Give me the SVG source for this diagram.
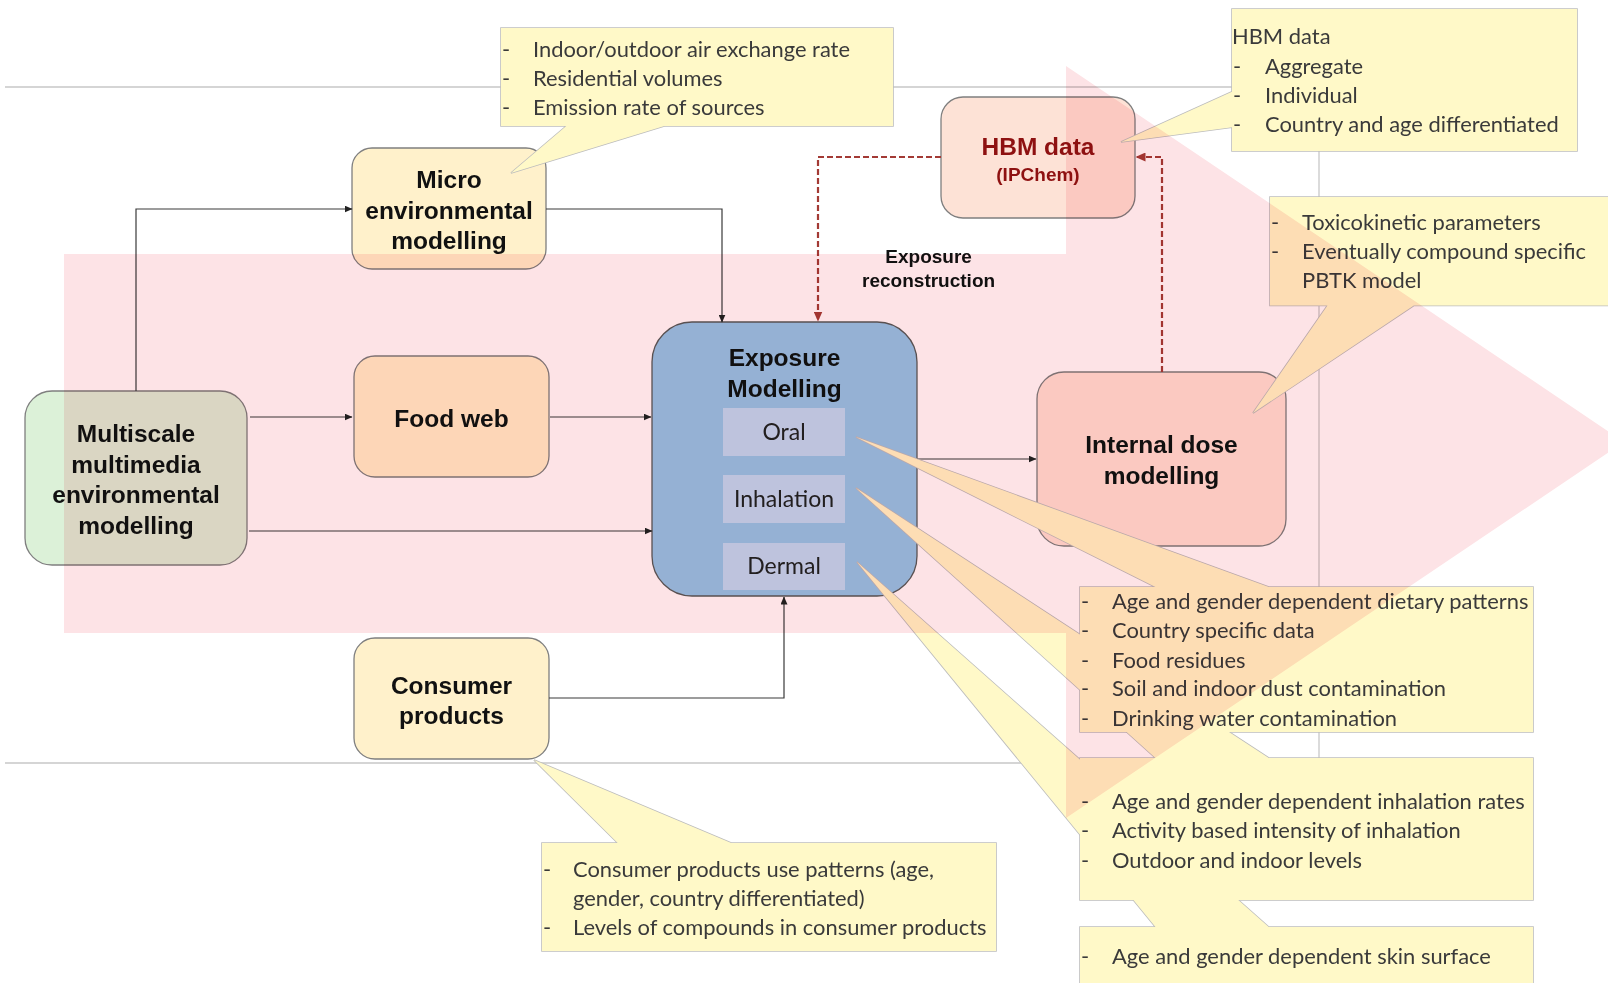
<svg xmlns="http://www.w3.org/2000/svg" width="1608" height="983" viewBox="0 0 1608 983">
<defs>
<style>
.node{stroke:#7f7f7f;stroke-width:1.3}
.cream{fill:#FFF1CB}
.nt{font-family:"Liberation Sans",Arial,sans-serif;font-weight:bold;font-size:24.5px;fill:#111;text-anchor:middle}
.lbl{font-family:"Liberation Sans",Arial,sans-serif;font-weight:bold;font-size:19px;fill:#111;text-anchor:middle}
.sub{fill:#C0DBF5}
.st{font-family:Lato,"Liberation Sans",sans-serif;font-size:23px;fill:#222;text-anchor:middle}
.conn{fill:none;stroke:#3a3a3a;stroke-width:1.2}
.dash{fill:none;stroke:#A33A35;stroke-width:2.2;stroke-dasharray:6 3}
.ct{font-family:Lato,"Liberation Sans",sans-serif;font-size:21.9px;fill:#3a3a3a}
.cos{fill:#FFF9C8;stroke:#BDBDBD;stroke-width:1.6}
.cof{fill:#FFF9C8}
.frame{fill:none;stroke:#C8C8C8;stroke-width:1.3}
</style>
<marker id="ah" markerUnits="userSpaceOnUse" markerWidth="8" markerHeight="7" refX="7.5" refY="3.5" orient="auto"><path d="M0,0 L8,3.5 L0,7 Z" fill="#222"/></marker>
<marker id="ahr" markerUnits="userSpaceOnUse" markerWidth="10" markerHeight="9" refX="9.5" refY="4.5" orient="auto"><path d="M0,0 L10,4.5 L0,9 Z" fill="#A33A35"/></marker>
<path id="c-micro" d="M501,28 H893 V126 H664.3 L511,173 L566.3,126 H501 Z"/>
<path id="c-hbm" d="M1232,9 H1577 V151 H1232 V127.3 L1121,142 L1232,91.8 Z"/>
<path id="c-tox" d="M1270,197 H1620 V305.5 H1413.75 L1253,413 L1327.5,305.5 H1270 Z"/>
<path id="c-oral" d="M1080,587 H1155.5 L856,437 L1268.75,587 H1533 V732 H1080 Z"/>
<path id="c-inh" d="M1080,758 H1155.5 L856,488 L1268.75,758 H1533 V900 H1080 Z"/>
<path id="c-der" d="M1080,927 H1155.5 L857,562 L1268.75,927 H1533 V1000 H1080 Z"/>
<path id="c-con" d="M542,843 H617.7 L534,760 L731.2,843 H996 V951 H542 Z"/>
</defs>
<rect width="1608" height="983" fill="#fff"/>
<path class="frame" d="M5,87 H1319 V763 H5"/>

<g id="node-multiscale">
<rect class="node" x="25" y="391" width="222" height="174" rx="27" fill="#DCF1D8"/>
<text class="nt" x="136" y="442">Multiscale</text>
<text class="nt" x="136" y="472.5">multimedia</text>
<text class="nt" x="136" y="503">environmental</text>
<text class="nt" x="136" y="533.5">modelling</text>
</g>
<g id="node-micro">
<rect class="node cream" x="352" y="148" width="194" height="121" rx="20"/>
<text class="nt" x="449" y="188">Micro</text>
<text class="nt" x="449" y="218.5">environmental</text>
<text class="nt" x="449" y="249">modelling</text>
</g>
<g id="node-foodweb">
<rect class="node cream" x="354" y="356" width="195" height="121" rx="21"/>
<text class="nt" x="451.5" y="426.7">Food web</text>
</g>
<g id="node-consumer">
<rect class="node cream" x="354" y="638" width="195" height="121" rx="21"/>
<text class="nt" x="451.5" y="694">Consumer</text>
<text class="nt" x="451.5" y="724">products</text>
</g>
<g id="node-exposure">
<rect x="652" y="322" width="265" height="274" rx="40" fill="#96C7EB" stroke="#5a5a5a" stroke-width="1.3"/>
<text class="nt" x="784.5" y="366">Exposure</text>
<text class="nt" x="784.5" y="396.7">Modelling</text>
<rect class="sub" x="723" y="408" width="122" height="48"/>
<text class="st" x="784" y="440">Oral</text>
<rect class="sub" x="723" y="475" width="122" height="48"/>
<text class="st" x="784" y="507">Inhalation</text>
<rect class="sub" x="723" y="543" width="122" height="47"/>
<text class="st" x="784" y="574">Dermal</text>
</g>
<g id="node-hbm">
<rect class="node" x="941" y="97" width="194" height="121" rx="22" fill="#FDE2D6"/>
<text class="nt" x="1038" y="155" style="fill:#8E1111">HBM data</text>
<text class="lbl" x="1038" y="181" style="fill:#8E1111">(IPChem)</text>
</g>
<g id="node-internal">
<rect class="node" x="1037" y="372" width="249" height="174" rx="27" fill="#FDE2D6"/>
<text class="nt" x="1161.5" y="453.3">Internal dose</text>
<text class="nt" x="1161.5" y="483.5">modelling</text>
</g>

<g id="connectors">
<path class="conn" d="M136,391 V209 H352" marker-end="url(#ah)"/>
<path class="conn" d="M546,209 H722 V322" marker-end="url(#ah)"/>
<path class="conn" d="M250,417 H352" marker-end="url(#ah)"/>
<path class="conn" d="M550,417 H651" marker-end="url(#ah)"/>
<path class="conn" d="M249,531 H652" marker-end="url(#ah)"/>
<path class="conn" d="M917,459 H1036" marker-end="url(#ah)"/>
<path class="conn" d="M549,698 H784 V597" marker-end="url(#ah)"/>
<path class="dash" d="M941,157 H818 V321" marker-end="url(#ahr)"/>
<path class="dash" d="M1162,372 V157 H1136" marker-end="url(#ahr)"/>
<text class="lbl" x="928.6" y="263">Exposure</text>
<text class="lbl" x="928.6" y="287">reconstruction</text>
</g>

<g id="callout-outlines" class="cos">
<use href="#c-micro"/><use href="#c-hbm"/><use href="#c-tox"/><use href="#c-der"/><use href="#c-inh"/><use href="#c-oral"/><use href="#c-con"/>
</g>
<g id="callout-micro">
<use href="#c-micro" class="cof"/>
<text class="ct" x="502" y="56.5">-</text><text class="ct" x="533" y="56.5">Indoor/outdoor air exchange rate</text>
<text class="ct" x="502" y="85.5">-</text><text class="ct" x="533" y="85.5">Residential volumes</text>
<text class="ct" x="502" y="114.5">-</text><text class="ct" x="533" y="114.5">Emission rate of sources</text>
</g>
<g id="callout-hbm">
<use href="#c-hbm" class="cof"/>
<text class="ct" x="1232" y="44">HBM data</text>
<text class="ct" x="1233" y="74">-</text><text class="ct" x="1265" y="74">Aggregate</text>
<text class="ct" x="1233" y="103">-</text><text class="ct" x="1265" y="103">Individual</text>
<text class="ct" x="1233" y="132">-</text><text class="ct" x="1265" y="132">Country and age differentiated</text>
</g>
<g id="callout-tox">
<use href="#c-tox" class="cof"/>
<text class="ct" x="1271" y="229.5">-</text><text class="ct" x="1302" y="229.5">Toxicokinetic parameters</text>
<text class="ct" x="1271" y="259">-</text><text class="ct" x="1302" y="259">Eventually compound specific</text>
<text class="ct" x="1302" y="288">PBTK model</text>
</g>
<g id="callout-dermal">
<use href="#c-der" class="cof"/>
<text class="ct" x="1081" y="964">-</text><text class="ct" x="1112" y="964">Age and gender dependent skin surface</text>
</g>
<g id="callout-inhalation">
<use href="#c-inh" class="cof"/>
<text class="ct" x="1081" y="809">-</text><text class="ct" x="1112" y="809">Age and gender dependent inhalation rates</text>
<text class="ct" x="1081" y="838">-</text><text class="ct" x="1112" y="838">Activity based intensity of inhalation</text>
<text class="ct" x="1081" y="867.5">-</text><text class="ct" x="1112" y="867.5">Outdoor and indoor levels</text>
</g>
<g id="callout-oral">
<use href="#c-oral" class="cof"/>
<text class="ct" x="1081" y="609">-</text><text class="ct" x="1112" y="609">Age and gender dependent dietary patterns</text>
<text class="ct" x="1081" y="638">-</text><text class="ct" x="1112" y="638">Country specific data</text>
<text class="ct" x="1081" y="667.5">-</text><text class="ct" x="1112" y="667.5">Food residues</text>
<text class="ct" x="1081" y="696">-</text><text class="ct" x="1112" y="696">Soil and indoor dust contamination</text>
<text class="ct" x="1081" y="725.5">-</text><text class="ct" x="1112" y="725.5">Drinking water contamination</text>
</g>
<g id="callout-consumer">
<use href="#c-con" class="cof"/>
<text class="ct" x="543" y="877">-</text><text class="ct" x="573" y="877">Consumer products use patterns (age,</text>
<text class="ct" x="573" y="905.5">gender, country differentiated)</text>
<text class="ct" x="543" y="935">-</text><text class="ct" x="573" y="935">Levels of compounds in consumer products</text>
</g>

<path id="pink-arrow" d="M64,254 H1066 V66 L1624,442 L1066,818 V633 H64 Z" fill="#FDE3E6" style="mix-blend-mode:multiply"/>
</svg>
